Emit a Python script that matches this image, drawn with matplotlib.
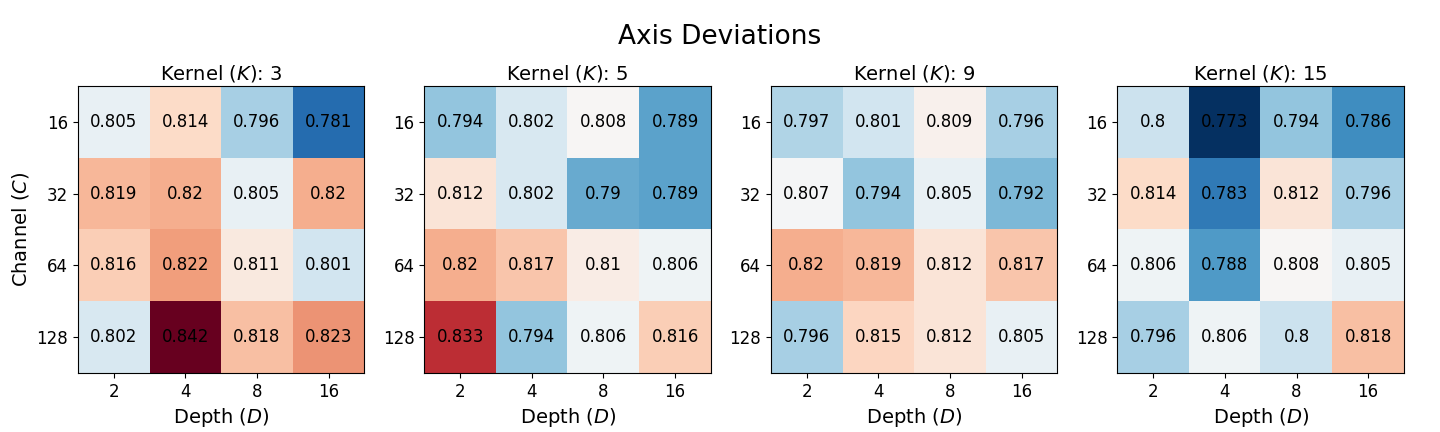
import numpy as np
import matplotlib.pyplot as plt

depths = [2, 4, 8, 16]
channels = [16, 32, 64, 128]
kernels = [3, 5, 9, 15]

# rows = channel, cols = depth
dev_k3 = [[0.805, 0.814, 0.796, 0.781],
          [0.819, 0.820, 0.805, 0.820],
          [0.816, 0.822, 0.811, 0.801],
          [0.802, 0.842, 0.818, 0.823]]
dev_k5 = [[0.794, 0.802, 0.808, 0.789],
          [0.812, 0.802, 0.790, 0.789],
          [0.820, 0.817, 0.810, 0.806],
          [0.833, 0.794, 0.806, 0.816]]
dev_k9 = [[0.797, 0.801, 0.809, 0.796],
          [0.807, 0.794, 0.805, 0.792],
          [0.820, 0.819, 0.812, 0.817],
          [0.796, 0.815, 0.812, 0.805]]
dev_k15 = [[0.800, 0.773, 0.794, 0.786],
           [0.814, 0.783, 0.812, 0.796],
           [0.806, 0.788, 0.808, 0.805],
           [0.796, 0.806, 0.800, 0.818]]

all_dev = [np.array(d) for d in (dev_k3, dev_k5, dev_k9, dev_k15)]
vmin = min(d.min() for d in all_dev)
vmax = max(d.max() for d in all_dev)

fig, axes = plt.subplots(1, 4, figsize=(14.4, 4.32), dpi=100)
fig.subplots_adjust(left=0.054, right=0.975, top=0.801, bottom=0.137, wspace=0.209)

for ax, k, data in zip(axes, kernels, all_dev):
    ax.imshow(data, cmap='RdBu_r', vmin=vmin, vmax=vmax, aspect='auto')
    for i in range(len(channels)):
        for j in range(len(depths)):
            ax.text(j, i, f"{round(data[i, j], 3):g}", ha='center', va='center',
                    color='black', fontsize=12)
    ax.set_xticks(range(len(depths)))
    ax.set_xticklabels(depths, fontsize=12)
    ax.set_yticks(range(len(channels)))
    ax.set_yticklabels(channels, fontsize=12)
    ax.set_xlabel('Depth ($D$)', fontsize=14)
    ax.set_title(f'Kernel ($K$): {k}', fontsize=14, pad=5)

axes[0].set_ylabel('Channel ($C$)', fontsize=14)
fig.suptitle('Axis Deviations', fontsize=19, y=0.945)

fig.savefig('out.png', dpi=100)
